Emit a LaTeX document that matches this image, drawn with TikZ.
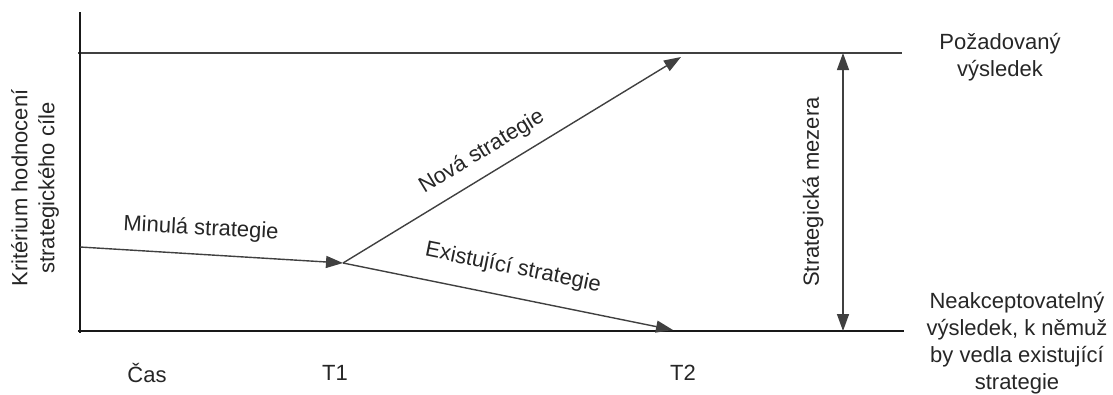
\documentclass[tikz,border=0pt]{standalone}
\usepackage{fontspec}
\setmainfont{Liberation Sans}
\usetikzlibrary{arrows.meta}
\begin{document}
\begin{tikzpicture}[x=1pt,y=-1pt,
  lbl/.style={font=\fontsize{22}{27}\selectfont, inner sep=0pt, text=black!85},
  axis/.style={line width=2.8pt, black!90},
  thin/.style={line width=1.4pt, black!75},
  tip/.tip={Triangle[length=17pt,width=12pt]},
  arr/.style={-tip},
]
\useasboundingbox (0,0) rectangle (1113,394);
% points
\coordinate (ytop) at (80,12);
\coordinate (ybot) at (80,333);
\coordinate (xbeg) at (78,331);
\coordinate (xend) at (904,331);
\coordinate (topL) at (78,53);
\coordinate (topR) at (902,53);
\coordinate (start) at (80,247);
\coordinate (t1p) at (343,263);
\coordinate (newend) at (681,57);
\coordinate (exend) at (673,330);
\coordinate (gapT) at (843,53);
\coordinate (gapB) at (843,331);
% axes
\draw[thin] (topL) -- (topR);
\draw[axis] (ytop) -- (ybot);
\draw[axis] (xbeg) -- (xend);
% strategies
\draw[thin,arr] (start) -- (t1p);
\draw[thin,arr] (t1p) -- (newend);
\draw[thin,arr] (t1p) -- (exend);
\draw[thin,tip-tip] (gapT) -- (gapB);
% labels
\node[lbl, rotate=90, align=center] (ylab) at (35,188) {Kritérium hodnocení\\strategického cíle};
\node[lbl, rotate=-3] (minula) at (201,229) {Minulá strategie};
\node[lbl, rotate=31.3] (nova) at (482,152) {Nová strategie};
\node[lbl, rotate=-11.5] (exist) at (513,268) {Existující strategie};
\node[lbl, rotate=90] (mezera) at (813,192) {Strategická mezera};
\node[lbl, align=center] (poz) at (1000,57) {Požadovaný\\výsledek};
\node[lbl, align=center] (neak) at (1017,343) {Neakceptovatelný\\výsledek, k němuž\\by vedla existující\\strategie};
\node[lbl] (cas) at (147,373) {Čas};
\node[lbl] (t1) at (335,373) {T1};
\node[lbl] (t2) at (683,373) {T2};
\end{tikzpicture}
\end{document}
